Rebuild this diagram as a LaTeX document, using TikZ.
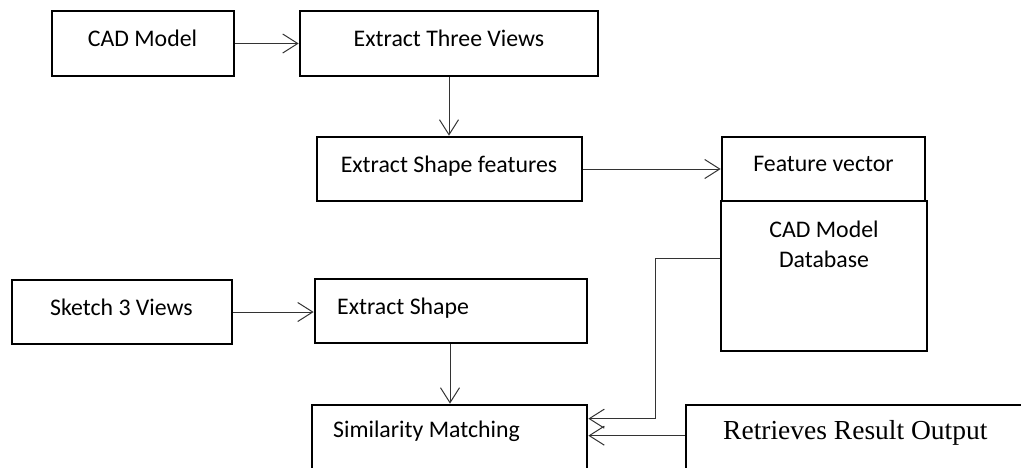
\documentclass[tikz,border=0pt]{standalone}
\usepackage{fontspec}
\setmainfont{Carlito}
\newfontfamily\serifcaption{Liberation Serif}
\usetikzlibrary{arrows.meta}

\tikzset{
  box/.style={draw=black, line width=2.7pt, rectangle, inner sep=0pt},
  label text/.style={inner sep=0pt, font=\fontsize{23.8}{30}\selectfont, text=black},
  conn/.style={draw=black!80, line width=1pt,
    -{Straight Barb[length=15pt,width=19pt,line width=1pt]}},
}

\begin{document}
\begin{tikzpicture}[x=1pt, y=-1pt]
  \useasboundingbox (0,0) rectangle (1021,467);
  \clip (0,0) rectangle (1021,467);

  % process boxes
  \node[box, minimum width=182pt, minimum height=65pt] (cad) at (143,43.5) {};
  \node[box, minimum width=298pt, minimum height=65pt] (views) at (449,43.5) {};
  \node[box, minimum width=265pt, minimum height=64pt] (shapefeat) at (449.5,169) {};
  \node[box, minimum width=203pt, minimum height=64pt] (fvec) at (823.5,169) {};
  \node[box, minimum width=206pt, minimum height=150pt] (db) at (824,276) {};
  \node[box, minimum width=220pt, minimum height=64pt] (sketch) at (122,312) {};
  \node[box, minimum width=272pt, minimum height=64pt] (shape) at (451,311) {};
  \node[box, minimum width=275pt, minimum height=100pt] (sim) at (449.5,455) {};
  \node[box, minimum width=400pt, minimum height=100pt] (ret) at (886,455) {};

  % box captions
  \node[label text, anchor=base] (tcad) at (142.5,46) {CAD Model};
  \node[label text, anchor=base] (tviews) at (449,46) {Extract Three Views};
  \node[label text, anchor=base] (tshapefeat) at (449,172) {Extract Shape features};
  \node[label text, anchor=base] (tfvec) at (823.5,171) {Feature vector};
  \node[label text, anchor=base] (tdb1) at (824,237) {CAD Model};
  \node[label text, anchor=base] (tdb2) at (824,267) {Database};
  \node[label text, anchor=base] (tsketch) at (121.5,315) {Sketch 3 Views};
  \node[label text, anchor=base west] (tshape) at (337,314) {Extract Shape};
  \node[label text, anchor=base west] (tsim) at (333,437) {Similarity Matching};
  \node[inner sep=0pt, anchor=base west, font=\serifcaption\fontsize{27.5}{32}\selectfont]
    (tret) at (723,439) {Retrieves Result Output};

  % connectors
  \draw[conn] (cad.east) -- (views.west);
  \draw[conn] (views.south) -- (views.south |- shapefeat.north);
  \draw[conn] (shapefeat.east) -- (fvec.west);
  \draw[conn] (sketch.east) -- (sketch.east -| shape.west);
  \draw[conn] ([xshift=-1pt]shape.south) -- ([xshift=-1pt]shape.south |- sim.north);
  \draw[conn] ([yshift=-59pt]db.north west)
    -| ([xshift=67pt,yshift=-15pt]sim.north east)
    -- ([yshift=-15pt]sim.north east);
  \draw[conn] ([yshift=-32pt]ret.north west) -- ([yshift=-32pt]sim.north east);
\end{tikzpicture}
\end{document}
